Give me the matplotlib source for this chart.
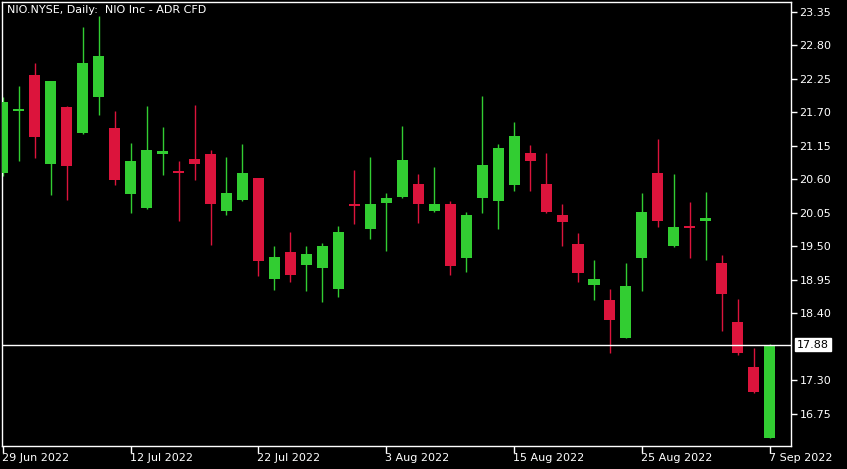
import numpy as np
import matplotlib
matplotlib.use("Agg")
import matplotlib.pyplot as plt
import matplotlib.transforms as mtransforms

# daily OHLC, 29 Jun 2022 .. 7 Sep 2022
opens = [20.71, 21.73, 22.31, 20.85, 21.79, 21.36, 21.96, 21.44, 20.36, 20.13,
         21.02, 20.73, 20.93, 21.01, 20.08, 20.26, 20.62, 18.96, 19.40, 19.19,
         19.15, 18.79, 20.20, 19.78, 20.21, 20.31, 20.53, 20.08, 20.19, 19.30,
         20.29, 20.24, 20.51, 21.04, 20.52, 20.02, 19.53, 18.87, 18.62, 18.00,
         19.30, 20.71, 19.50, 19.84, 19.91, 19.22, 18.26, 17.52, 16.35]
highs = [21.95, 22.13, 22.51, 22.22, 21.80, 23.10, 23.28, 21.72, 21.19, 21.80,
         21.46, 20.90, 21.82, 21.08, 20.96, 21.18, 20.63, 19.51, 19.74, 19.51,
         19.56, 19.84, 20.76, 20.96, 20.37, 21.47, 20.68, 20.80, 20.24, 20.07,
         21.97, 21.18, 21.55, 21.16, 21.03, 20.19, 19.71, 19.27, 18.80, 19.23,
         20.37, 21.27, 20.68, 20.22, 20.39, 19.35, 18.63, 17.82, 17.89]
lows = [20.65, 20.90, 20.95, 20.34, 20.26, 21.35, 21.66, 20.51, 20.04, 20.12,
        20.67, 19.92, 20.59, 19.52, 20.01, 20.25, 19.01, 18.78, 18.91, 18.76,
        18.58, 18.66, 19.86, 19.62, 19.43, 20.30, 19.88, 20.07, 19.02, 19.07,
        20.04, 19.78, 20.41, 20.41, 20.05, 19.50, 18.92, 18.61, 17.74, 17.99,
        18.76, 19.81, 19.49, 19.30, 19.27, 18.10, 17.72, 17.09, 16.35]
closes = [21.87, 21.76, 21.29, 22.21, 20.82, 22.51, 22.63, 20.59, 20.90, 21.09,
          21.06, 20.70, 20.85, 20.19, 20.37, 20.70, 19.25, 19.33, 19.02, 19.38,
          19.50, 19.74, 20.16, 20.20, 20.30, 20.91, 20.19, 20.19, 19.17, 20.02,
          20.83, 21.11, 21.32, 20.90, 20.06, 19.90, 19.06, 18.97, 18.28, 18.85,
          20.06, 19.91, 19.81, 19.80, 19.96, 18.72, 17.74, 17.10, 17.88]

last_price = 17.88
date_labels = ["29 Jun 2022", "12 Jul 2022", "22 Jul 2022", "3 Aug 2022",
               "15 Aug 2022", "25 Aug 2022", "7 Sep 2022"]
date_idx = [0, 8, 16, 24, 32, 40, 48]
price_ticks = [16.75, 17.30, 17.88, 18.40, 18.95, 19.50, 20.05, 20.60,
               21.15, 21.70, 22.25, 22.80, 23.35]

UP = "#32CD32"
DOWN = "#DC143C"
FG = "white"
FS = 8

o = np.array(opens)
h = np.array(highs)
l = np.array(lows)
c = np.array(closes)
x = np.arange(len(o))
colors = [UP if cc >= oo else DOWN for oo, cc in zip(o, c)]

fig = plt.figure(figsize=(8.47, 4.69), dpi=100, facecolor="black")
ax = fig.add_axes([2 / 847, 1 - 446 / 469, 789 / 847, 444 / 469])
ax.set_facecolor("black")

ax.vlines(x, l, h, colors=colors, linewidth=1.0, zorder=2)
body_lo = np.minimum(o, c)
body_h = np.maximum(np.abs(c - o), 0.03)
ax.bar(x, body_h, bottom=body_lo, width=0.69, color=colors, linewidth=0, zorder=3)

ax.axhline(last_price, color=FG, linewidth=1.0, zorder=4)

ax.set_xlim(-0.05, 49.33)
ax.set_ylim(16.217, 23.515)

for s in ax.spines.values():
    s.set_color(FG)
    s.set_linewidth(1.0)

ax.yaxis.tick_right()
ax.set_yticks([t for t in price_ticks if t != last_price])
ax.set_yticklabels(["%.2f" % t for t in price_ticks if t != last_price])
ax.tick_params(axis="y", colors=FG, direction="out", length=4, width=1,
               labelsize=FS, pad=2)
ax.set_xticks(date_idx)
ax.set_xticklabels(date_labels, ha="left")
ax.tick_params(axis="x", colors=FG, direction="out", length=5, width=1,
               labelsize=FS, pad=0)
offset = mtransforms.ScaledTranslation(-1 / 100, 0, fig.dpi_scale_trans)
for lab in ax.get_xticklabels():
    lab.set_transform(lab.get_transform() + offset)

# last price marker on the right scale
trans = mtransforms.blended_transform_factory(ax.transAxes, ax.transData)
ax.text(1.0 + 6 / 789, last_price, "%.2f" % last_price, transform=trans,
        ha="left", va="center", fontsize=FS, color="black",
        bbox=dict(boxstyle="square,pad=0.15", facecolor="white", edgecolor="white"),
        clip_on=False, zorder=5)

ax.text(5 / 789, 1 - 3 / 444, "NIO.NYSE, Daily:  NIO Inc - ADR CFD",
        transform=ax.transAxes, ha="left", va="top", fontsize=FS, color=FG)

fig.savefig("out.png", dpi=100, facecolor="black")
